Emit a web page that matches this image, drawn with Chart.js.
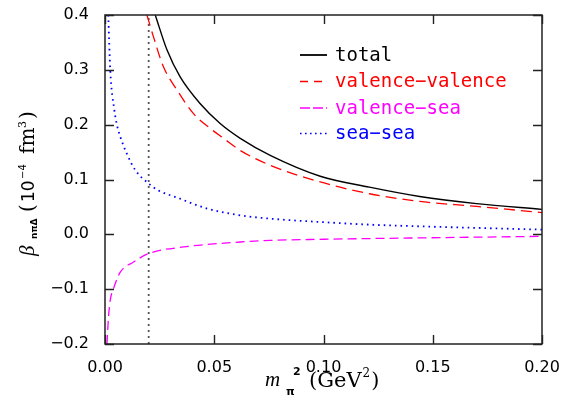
<!DOCTYPE html>
<html><head><meta charset="utf-8">
<script src="https://cdn.jsdelivr.net/npm/chart.js@4/dist/chart.umd.min.js"></script>
<style>html,body{margin:0;padding:0;background:#fff}</style>
</head><body>
<canvas id="c" width="568" height="400" style="width:568px;height:400px;display:block"></canvas>
<script>
// ---- data (x = m_pi^2 in GeV^2, y = beta in 1e-4 fm^3) ----
const seriesLabels = ["total", "valence\u2212valence", "valence\u2212sea", "sea\u2212sea"];
const totalX = [0.023, 0.0284, 0.0344, 0.0436, 0.0527, 0.0619, 0.0756, 0.0985, 0.121, 0.144, 0.17, 0.2];
const totalY = [0.4, 0.336, 0.287, 0.238, 0.202, 0.175, 0.144, 0.106, 0.086, 0.069, 0.056, 0.0456];
const valvalX = [0.0192, 0.0222, 0.0268, 0.033, 0.0405, 0.0482, 0.0543, 0.0619, 0.0756, 0.0985, 0.121, 0.144, 0.17, 0.2];
const valvalY = [0.4, 0.36, 0.305, 0.263, 0.220, 0.193, 0.175, 0.153, 0.126, 0.0955, 0.074, 0.060, 0.051, 0.0396];
const valseaX = [0.0009, 0.0016, 0.0024, 0.0039, 0.007, 0.0131, 0.02, 0.036, 0.0619, 0.0756, 0.1, 0.1397, 0.2];
const valseaY = [-0.2, -0.151, -0.12, -0.099, -0.069, -0.0505, -0.035, -0.023, -0.014, -0.011, -0.009, -0.0067, -0.0037];
const seaseaX = [0.0015, 0.0024, 0.0043, 0.0055, 0.007, 0.010, 0.0139, 0.020, 0.0245, 0.033, 0.0467, 0.0619, 0.0756, 0.0985, 0.121, 0.144, 0.2];
const seaseaY = [0.4, 0.3, 0.226, 0.199, 0.178, 0.147, 0.117, 0.0925, 0.080, 0.067, 0.047, 0.0347, 0.0286, 0.0225, 0.0177, 0.0146, 0.0086];
const markerX = [0.02, 0.02];
const markerY = [-0.2, 0.4];
const xTicks = [0.00, 0.05, 0.10, 0.15, 0.20];
const yTicks = [-0.2, -0.1, 0.0, 0.1, 0.2, 0.3, 0.4];

const pts = (xs, ys) => xs.map((xv, i) => ({x: xv, y: ys[i]}));
const colors = ["#000000", "#ff0000", "#ff00ff", "#0000ff"];

function drawFrameTicks(chart) {
  const ctx = chart.ctx, a = chart.chartArea;
  const sx = chart.scales.x, sy = chart.scales.y;
  ctx.save();
  ctx.setLineDash([]);
  ctx.strokeStyle = '#222';
  ctx.lineWidth = 1.5;
  ctx.strokeRect(a.left, a.top, a.right - a.left, a.bottom - a.top);
  const tl = 9;
  ctx.lineWidth = 1.4;
  xTicks.forEach(v => {
    const px = Math.round(sx.getPixelForValue(v)) + 0.5;
    ctx.beginPath();
    ctx.moveTo(px, a.bottom); ctx.lineTo(px, a.bottom - tl);
    ctx.moveTo(px, a.top); ctx.lineTo(px, a.top + tl);
    ctx.stroke();
  });
  yTicks.forEach(v => {
    const py = Math.round(sy.getPixelForValue(v)) + 0.5;
    ctx.beginPath();
    ctx.moveTo(a.left, py); ctx.lineTo(a.left + tl, py);
    ctx.moveTo(a.right, py); ctx.lineTo(a.right - tl, py);
    ctx.stroke();
  });
  ctx.restore();
}

function drawDecor(chart) {
  const ctx = chart.ctx;
  ctx.save();
  // legend
  const lx0 = 300, lx1 = 327, tx = 335;
  const rowsY = [55, 81.5, 108, 133.5];
  const dashes = [[], [8, 6], [10, 3], [1.6, 3.4]];
  const widths = [1.8, 1.4, 1.4, 1.6];
  ctx.font = '19px "DejaVu Sans Mono"';
  ctx.textBaseline = 'middle';
  ctx.textAlign = 'left';
  chart.data.datasets.slice(0, 4).forEach((ds, i) => {
    ctx.strokeStyle = ds.borderColor;
    ctx.lineWidth = widths[i];
    ctx.setLineDash(dashes[i]);
    ctx.beginPath();
    ctx.moveTo(lx0, rowsY[i]); ctx.lineTo(lx1, rowsY[i]);
    ctx.stroke();
    ctx.fillStyle = ds.borderColor;
    ctx.fillText(ds.label, tx, rowsY[i] + 1);
  });
  ctx.setLineDash([]);

  // x axis title: m_pi^2 (GeV^2)
  ctx.fillStyle = '#000';
  ctx.textBaseline = 'alphabetic';
  ctx.font = 'italic 21px "Liberation Serif"';
  ctx.fillText('m', 265, 386);
  ctx.font = 'bold 11px "DejaVu Sans"';
  ctx.fillText('\u03c0', 286, 395);
  ctx.fillText('2', 293, 375);
  let cx = 309;
  ctx.font = '21px "DejaVu Serif"';
  ctx.fillText('(GeV', cx, 387); cx += ctx.measureText('(GeV').width + 1;
  ctx.font = '12px "DejaVu Serif"';
  ctx.fillText('2', cx, 377); cx += ctx.measureText('2').width + 1;
  ctx.font = '21px "DejaVu Serif"';
  ctx.fillText(')', cx, 387);

  // y axis title (rotated): beta_{n pi Delta} (10^-4 fm^3)
  ctx.translate(34, 256);
  ctx.rotate(-Math.PI / 2);
  ctx.font = 'italic 21px "Liberation Serif"';
  ctx.fillText('\u03b2', 0, 0);
  ctx.font = 'bold 9px "DejaVu Sans"';
  ctx.fillText('n\u03c0\u0394', 17, 3);
  ctx.font = '20px "DejaVu Serif"';
  ctx.fillText('(', 44, 0);
  ctx.font = '17px "DejaVu Sans"';
  ctx.fillText('10', 54, 0);
  ctx.font = '10px "DejaVu Sans"';
  ctx.fillText('\u22124', 77, -8);
  ctx.font = '20px "DejaVu Serif"';
  ctx.fillText('fm', 102, 0);
  ctx.font = '11px "DejaVu Serif"';
  ctx.fillText('3', 128, -8);
  ctx.font = '20px "DejaVu Serif"';
  ctx.fillText(')', 137, 0);
  ctx.restore();
}

const decor = {
  id: 'decor',
  afterDraw(chart) {
    drawFrameTicks(chart);
    drawDecor(chart);
  }
};

const lineDs = (label, xs, ys, color, dash, width, mode) => ({
  label: label, data: pts(xs, ys), borderColor: color, backgroundColor: color,
  borderDash: dash, borderWidth: width, pointRadius: 0, showLine: true,
  fill: false, cubicInterpolationMode: mode, tension: 0
});

const zeroPad = s => { s.paddingTop = 0; s.paddingBottom = 0; s.paddingLeft = 0; s.paddingRight = 0; };

new Chart(document.getElementById('c'), {
  type: 'scatter',
  data: {
    datasets: [
      lineDs(seriesLabels[0], totalX, totalY, colors[0], [], 1.4, 'monotone'),
      lineDs(seriesLabels[1], valvalX, valvalY, colors[1], [11, 6], 1.3, 'monotone'),
      lineDs(seriesLabels[2], valseaX, valseaY, colors[2], [9, 5], 1.3, 'monotone'),
      lineDs(seriesLabels[3], seaseaX, seaseaY, colors[3], [1.6, 4], 1.8, 'monotone'),
      lineDs('m', markerX, markerY, '#555555', [2, 4], 1.8, 'default')
    ]
  },
  options: {
    responsive: false,
    animation: false,
    devicePixelRatio: 1,
    layout: {padding: {top: 15, right: 26, left: 0, bottom: 0}},
    plugins: {legend: {display: false}, tooltip: {enabled: false}},
    scales: {
      x: {
        type: 'linear', min: 0, max: 0.2,
        afterFit: s => { s.height = 56; zeroPad(s); },
        afterBuildTicks: s => { s.ticks = xTicks.map(v => ({value: v})); },
        grid: {display: false}, border: {display: false},
        ticks: {padding: 6, autoSkip: false, maxRotation: 0, color: '#000',
          font: {family: '"DejaVu Sans"', size: 16},
          callback: v => v.toFixed(2)}
      },
      y: {
        type: 'linear', min: -0.2, max: 0.4,
        afterFit: s => { s.width = 105; zeroPad(s); },
        afterBuildTicks: s => { s.ticks = yTicks.map(v => ({value: v})); },
        grid: {display: false}, border: {display: false},
        ticks: {padding: 8, color: '#000',
          font: {family: '"DejaVu Sans"', size: 16},
          callback: v => v.toFixed(1).replace('-', '\u2212')}
      }
    }
  },
  plugins: [decor]
});
</script>
</body></html>
